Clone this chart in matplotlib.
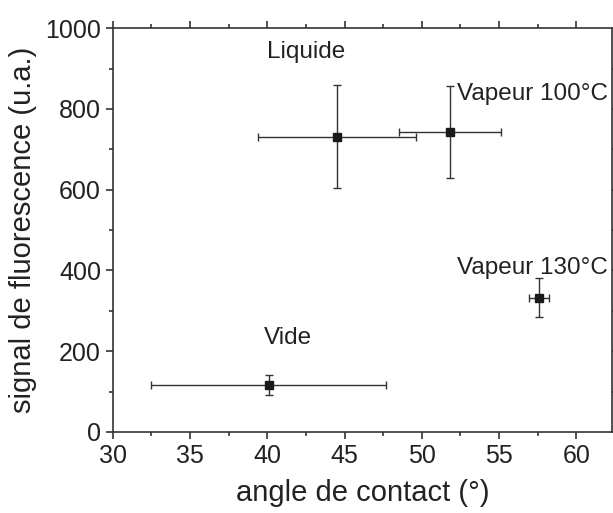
import numpy as np
import matplotlib.pyplot as plt
from matplotlib.ticker import MultipleLocator

plt.rcParams['font.family'] = ['Liberation Sans', 'DejaVu Sans']

# données
labels = ["Liquide", "Vapeur 100°C", "Vapeur 130°C", "Vide"]
angle = [44.5, 51.8, 57.6, 40.1]
angle_err = [5.1, 3.3, 0.65, 7.6]
signal = [731, 743, 333, 116]
signal_err = [128, 113, 49, 25]
label_pos = [(40.0, 942), (52.3, 838), (52.3, 405), (39.8, 232)]

fig = plt.figure(figsize=(6.13, 5.13), dpi=100)
ax = fig.add_axes([0.184, 0.158, 0.814, 0.787])

ax.errorbar(angle, signal, xerr=angle_err, yerr=signal_err, fmt="s",
            color="#1a1a1a", ecolor="#333333", elinewidth=1, capsize=3,
            capthick=1, markersize=6)

for lab, (tx, ty) in zip(labels, label_pos):
    ax.text(tx, ty, lab, fontsize=17.5, color="#222222", va="center", ha="left")

ax.set_xlim(30, 62.3)
ax.set_ylim(0, 1000)
ax.xaxis.set_major_locator(MultipleLocator(5))
ax.xaxis.set_minor_locator(MultipleLocator(2.5))
ax.yaxis.set_major_locator(MultipleLocator(200))
ax.yaxis.set_minor_locator(MultipleLocator(100))
ax.tick_params(which="both", direction="out", top=True, right=True,
               color="#333333", width=1.2)
ax.tick_params(which="major", length=5, labelsize=18, labelcolor="#222222")
ax.tick_params(which="minor", length=3)
ax.tick_params(axis="x", labeltop=False)
ax.tick_params(axis="y", labelright=False)
for s in ax.spines.values():
    s.set_color("#333333")
    s.set_linewidth(1.2)

ax.set_xlabel("angle de contact (°)", fontsize=21, color="#222222", labelpad=8)
ax.set_ylabel("signal de fluorescence (u.a.)", fontsize=21, color="#222222",
              labelpad=6)

fig.savefig("out.png", dpi=100)
